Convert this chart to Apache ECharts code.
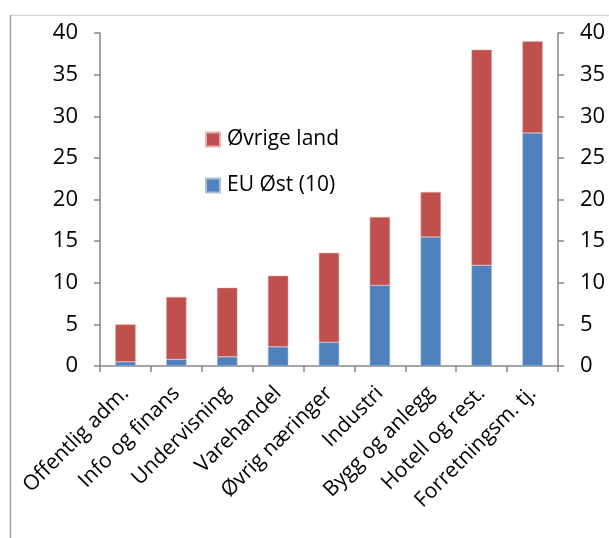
<!DOCTYPE html>
<html><head><meta charset="utf-8">
<script src="https://cdn.jsdelivr.net/npm/echarts@6/dist/echarts.min.js"></script>
<style>html,body{margin:0;padding:0;background:#fff}#c{width:609px;height:538px}</style>
</head><body><div id="c"></div>
<script>
var categories = ['Offentlig adm.', 'Info og finans', 'Undervisning', 'Varehandel', 'Øvrig næringer', 'Industri', 'Bygg og anlegg', 'Hotell og rest.', 'Forretningsm. tj.'];
var euOst = [0.5, 0.8, 1.1, 2.3, 2.85, 9.7, 15.5, 12.1, 28.0];
var ovrige = [4.5, 7.5, 8.3, 8.55, 10.75, 8.2, 5.4, 25.9, 11.0];
var seriesNames = ['EU Øst (10)', 'Øvrige land'];
var yTicks = {min: 0, max: 40, interval: 5};

var font = 'Open Sans';
var axisGray = '#868686';
var chart = echarts.init(document.getElementById('c'));
var yAxisCommon = {
  type: 'value', min: yTicks.min, max: yTicks.max, interval: yTicks.interval,
  axisLine: {show: true, lineStyle: {color: axisGray, width: 1.5}},
  axisTick: {show: true, length: 6, lineStyle: {color: axisGray, width: 1.5}},
  splitLine: {show: false},
  axisLabel: {color: '#000', fontSize: 22, fontFamily: font, margin: 22}
};
chart.setOption({
  animation: false,
  graphic: [
    {type: 'line', shape: {x1: 10, y1: 15.5, x2: 609, y2: 15.5}, style: {stroke: '#d0d0d0', lineWidth: 1}},
    {type: 'line', shape: {x1: 10.5, y1: 15, x2: 10.5, y2: 538}, style: {stroke: '#a0a0a0', lineWidth: 1.5}}
  ],
  grid: {left: 100, right: 51, top: 33, bottom: 172},
  legend: {
    orient: 'vertical', left: 200, top: 124, itemWidth: 14, itemHeight: 14, itemGap: 25,
    icon: 'rect',
    data: [seriesNames[1], seriesNames[0]],
    textStyle: {fontSize: 21, fontFamily: font, color: '#000', padding: [0, 0, 0, 2]}
  },
  xAxis: {
    type: 'category', data: categories,
    axisLine: {lineStyle: {color: axisGray, width: 1.5}},
    axisTick: {show: true, length: 6, alignWithLabel: false, lineStyle: {color: axisGray, width: 1.5}},
    axisLabel: {rotate: 45, interval: 0, color: '#000', fontSize: 21, fontFamily: font, margin: 24}
  },
  yAxis: [
    Object.assign({position: 'left'}, yAxisCommon),
    Object.assign({position: 'right'}, yAxisCommon)
  ],
  series: [
    {name: seriesNames[0], type: 'bar', stack: 'a', data: euOst, barWidth: '40%',
     itemStyle: {color: '#4F81BD', borderColor: '#a9c0df', borderWidth: 0.5}},
    {name: seriesNames[1], type: 'bar', stack: 'a', data: ovrige, barWidth: '40%',
     itemStyle: {color: '#C0504D', borderColor: '#e3b0ae', borderWidth: 0.5}}
  ]
});
</script></body></html>
